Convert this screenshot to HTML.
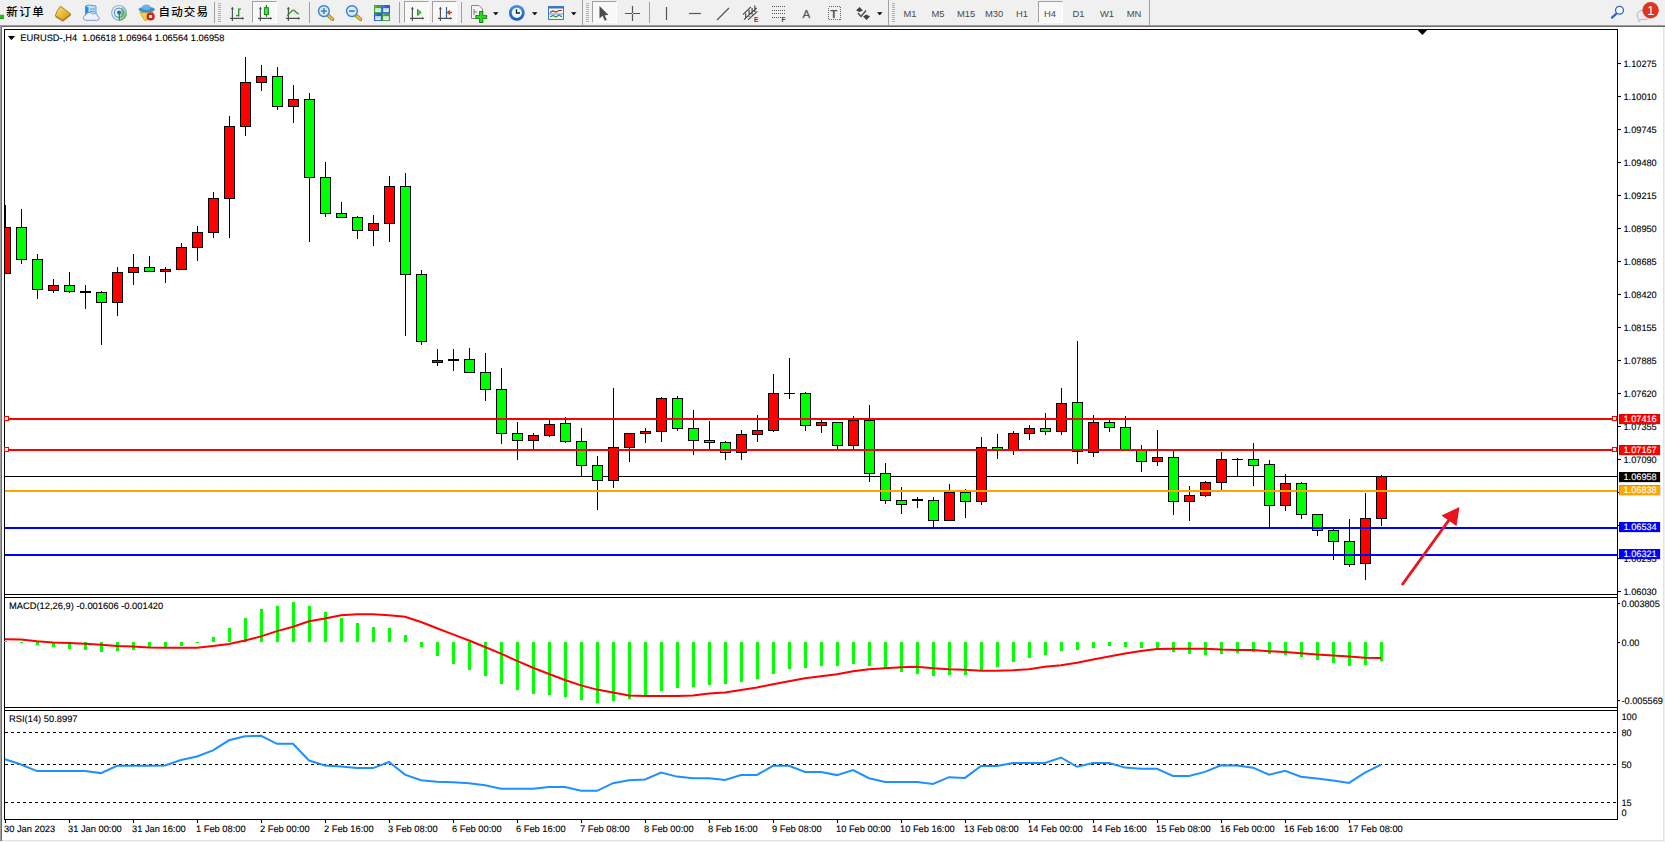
<!DOCTYPE html>
<html lang="zh"><head><meta charset="utf-8"><title>EURUSD-,H4</title>
<style>
html,body{margin:0;padding:0;}
body{width:1665px;height:842px;overflow:hidden;background:#f0f0f0;position:relative;font-family:"Liberation Sans", "Noto Sans CJK SC", sans-serif;}
.tb{position:absolute;left:0;top:0;width:1665px;height:25px;}
.tb .t{position:absolute;white-space:nowrap;}
.cj{font-size:11.5px;font-weight:500;color:#000;top:5.2px;line-height:14px;}
.tf{font-size:9.4px;color:#4a4a4a;top:8.0px;line-height:11px;width:28px;text-align:center;}
.sep{position:absolute;top:2px;width:1px;height:21px;background:#a0a0a0;}
.grip{position:absolute;top:3px;width:3px;height:19px;background:repeating-linear-gradient(#b0b0b0 0 1px,transparent 1px 2px);}
.pr{position:absolute;top:1px;height:22px;box-sizing:border-box;border:1px solid;border-color:#a0a0a0 #fff #fff #a0a0a0;background:#f8f8f8;}
</style></head><body>
<svg id="chart" width="1665" height="842" viewBox="0 0 1665 842" style="position:absolute;left:0;top:0" shape-rendering="crispEdges">
<rect x="0" y="27" width="1664" height="814" fill="#fff"/>
<rect x="0" y="25" width="1665" height="1" fill="#a0a0a0"/><rect x="0" y="26" width="1665" height="1" fill="#696969"/>
<rect x="0" y="26" width="1" height="815" fill="#a0a0a0"/><rect x="1" y="27" width="1" height="814" fill="#696969"/>
<rect x="1663" y="27" width="1" height="814" fill="#e3e3e3"/><rect x="2" y="840" width="1662" height="1" fill="#e3e3e3"/>
<defs><clipPath id="cm"><rect x="5" y="30" width="1612" height="564"/></clipPath></defs>
<rect x="4" y="29" width="1" height="791" fill="#000"/>
<rect x="1617" y="29" width="1" height="791" fill="#000"/>
<rect x="4" y="29" width="1614" height="1" fill="#000"/>
<rect x="4" y="594" width="1614" height="1" fill="#000"/>
<rect x="4" y="597" width="1614" height="1" fill="#000"/>
<rect x="4" y="707" width="1614" height="1" fill="#000"/>
<rect x="4" y="710" width="1614" height="1" fill="#000"/>
<rect x="4" y="819" width="1614" height="1" fill="#000"/>
<rect x="5" y="476" width="1612" height="1" fill="#000"/>
<g clip-path="url(#cm)">
<rect x="5" y="205" width="1" height="69" fill="#000"/>
<rect x="0" y="227" width="11" height="47" fill="#000"/>
<rect x="1" y="228" width="9" height="45" fill="#ff0000"/>
<rect x="21" y="209" width="1" height="55" fill="#000"/>
<rect x="16" y="227" width="11" height="33" fill="#000"/>
<rect x="17" y="228" width="9" height="31" fill="#00ff00"/>
<rect x="37" y="254" width="1" height="45" fill="#000"/>
<rect x="32" y="259" width="11" height="31" fill="#000"/>
<rect x="33" y="260" width="9" height="29" fill="#00ff00"/>
<rect x="53" y="279" width="1" height="14" fill="#000"/>
<rect x="48" y="285" width="11" height="6" fill="#000"/>
<rect x="49" y="286" width="9" height="4" fill="#ff0000"/>
<rect x="69" y="272" width="1" height="21" fill="#000"/>
<rect x="64" y="285" width="11" height="7" fill="#000"/>
<rect x="65" y="286" width="9" height="5" fill="#00ff00"/>
<rect x="85" y="285" width="1" height="24" fill="#000"/>
<rect x="80" y="291" width="11" height="2" fill="#000"/>
<rect x="101" y="291" width="1" height="54" fill="#000"/>
<rect x="96" y="292" width="11" height="11" fill="#000"/>
<rect x="97" y="293" width="9" height="9" fill="#00ff00"/>
<rect x="117" y="267" width="1" height="49" fill="#000"/>
<rect x="112" y="272" width="11" height="31" fill="#000"/>
<rect x="113" y="273" width="9" height="29" fill="#ff0000"/>
<rect x="133" y="254" width="1" height="31" fill="#000"/>
<rect x="128" y="267" width="11" height="6" fill="#000"/>
<rect x="129" y="268" width="9" height="4" fill="#ff0000"/>
<rect x="149" y="256" width="1" height="16" fill="#000"/>
<rect x="144" y="267" width="11" height="5" fill="#000"/>
<rect x="145" y="268" width="9" height="3" fill="#00ff00"/>
<rect x="165" y="267" width="1" height="16" fill="#000"/>
<rect x="160" y="269" width="11" height="3" fill="#000"/>
<rect x="161" y="270" width="9" height="1" fill="#ff0000"/>
<rect x="181" y="243" width="1" height="27" fill="#000"/>
<rect x="176" y="247" width="11" height="23" fill="#000"/>
<rect x="177" y="248" width="9" height="21" fill="#ff0000"/>
<rect x="197" y="226" width="1" height="35" fill="#000"/>
<rect x="192" y="232" width="11" height="16" fill="#000"/>
<rect x="193" y="233" width="9" height="14" fill="#ff0000"/>
<rect x="213" y="192" width="1" height="46" fill="#000"/>
<rect x="208" y="198" width="11" height="35" fill="#000"/>
<rect x="209" y="199" width="9" height="33" fill="#ff0000"/>
<rect x="229" y="116" width="1" height="122" fill="#000"/>
<rect x="224" y="126" width="11" height="73" fill="#000"/>
<rect x="225" y="127" width="9" height="71" fill="#ff0000"/>
<rect x="245" y="57" width="1" height="79" fill="#000"/>
<rect x="240" y="82" width="11" height="45" fill="#000"/>
<rect x="241" y="83" width="9" height="43" fill="#ff0000"/>
<rect x="261" y="65" width="1" height="26" fill="#000"/>
<rect x="256" y="76" width="11" height="7" fill="#000"/>
<rect x="257" y="77" width="9" height="5" fill="#ff0000"/>
<rect x="277" y="67" width="1" height="43" fill="#000"/>
<rect x="272" y="76" width="11" height="31" fill="#000"/>
<rect x="273" y="77" width="9" height="29" fill="#00ff00"/>
<rect x="293" y="85" width="1" height="38" fill="#000"/>
<rect x="288" y="99" width="11" height="8" fill="#000"/>
<rect x="289" y="100" width="9" height="6" fill="#ff0000"/>
<rect x="309" y="93" width="1" height="149" fill="#000"/>
<rect x="304" y="99" width="11" height="79" fill="#000"/>
<rect x="305" y="100" width="9" height="77" fill="#00ff00"/>
<rect x="325" y="162" width="1" height="55" fill="#000"/>
<rect x="320" y="177" width="11" height="37" fill="#000"/>
<rect x="321" y="178" width="9" height="35" fill="#00ff00"/>
<rect x="341" y="202" width="1" height="16" fill="#000"/>
<rect x="336" y="213" width="11" height="5" fill="#000"/>
<rect x="337" y="214" width="9" height="3" fill="#00ff00"/>
<rect x="357" y="216" width="1" height="23" fill="#000"/>
<rect x="352" y="217" width="11" height="14" fill="#000"/>
<rect x="353" y="218" width="9" height="12" fill="#00ff00"/>
<rect x="373" y="215" width="1" height="31" fill="#000"/>
<rect x="368" y="223" width="11" height="8" fill="#000"/>
<rect x="369" y="224" width="9" height="6" fill="#ff0000"/>
<rect x="389" y="176" width="1" height="66" fill="#000"/>
<rect x="384" y="186" width="11" height="38" fill="#000"/>
<rect x="385" y="187" width="9" height="36" fill="#ff0000"/>
<rect x="405" y="173" width="1" height="163" fill="#000"/>
<rect x="400" y="186" width="11" height="89" fill="#000"/>
<rect x="401" y="187" width="9" height="87" fill="#00ff00"/>
<rect x="421" y="270" width="1" height="75" fill="#000"/>
<rect x="416" y="274" width="11" height="68" fill="#000"/>
<rect x="417" y="275" width="9" height="66" fill="#00ff00"/>
<rect x="437" y="349" width="1" height="17" fill="#000"/>
<rect x="432" y="360" width="11" height="3" fill="#000"/>
<rect x="433" y="361" width="9" height="1" fill="#ff0000"/>
<rect x="453" y="349" width="1" height="22" fill="#000"/>
<rect x="448" y="359" width="11" height="2" fill="#000"/>
<rect x="469" y="348" width="1" height="25" fill="#000"/>
<rect x="464" y="359" width="11" height="14" fill="#000"/>
<rect x="465" y="360" width="9" height="12" fill="#00ff00"/>
<rect x="485" y="353" width="1" height="48" fill="#000"/>
<rect x="480" y="372" width="11" height="18" fill="#000"/>
<rect x="481" y="373" width="9" height="16" fill="#00ff00"/>
<rect x="501" y="368" width="1" height="76" fill="#000"/>
<rect x="496" y="389" width="11" height="45" fill="#000"/>
<rect x="497" y="390" width="9" height="43" fill="#00ff00"/>
<rect x="517" y="422" width="1" height="38" fill="#000"/>
<rect x="512" y="433" width="11" height="8" fill="#000"/>
<rect x="513" y="434" width="9" height="6" fill="#00ff00"/>
<rect x="533" y="433" width="1" height="16" fill="#000"/>
<rect x="528" y="435" width="11" height="6" fill="#000"/>
<rect x="529" y="436" width="9" height="4" fill="#ff0000"/>
<rect x="549" y="420" width="1" height="17" fill="#000"/>
<rect x="544" y="424" width="11" height="12" fill="#000"/>
<rect x="545" y="425" width="9" height="10" fill="#ff0000"/>
<rect x="565" y="417" width="1" height="26" fill="#000"/>
<rect x="560" y="423" width="11" height="19" fill="#000"/>
<rect x="561" y="424" width="9" height="17" fill="#00ff00"/>
<rect x="581" y="428" width="1" height="48" fill="#000"/>
<rect x="576" y="441" width="11" height="25" fill="#000"/>
<rect x="577" y="442" width="9" height="23" fill="#00ff00"/>
<rect x="597" y="456" width="1" height="54" fill="#000"/>
<rect x="592" y="465" width="11" height="16" fill="#000"/>
<rect x="593" y="466" width="9" height="14" fill="#00ff00"/>
<rect x="613" y="388" width="1" height="100" fill="#000"/>
<rect x="608" y="447" width="11" height="34" fill="#000"/>
<rect x="609" y="448" width="9" height="32" fill="#ff0000"/>
<rect x="629" y="433" width="1" height="29" fill="#000"/>
<rect x="624" y="433" width="11" height="15" fill="#000"/>
<rect x="625" y="434" width="9" height="13" fill="#ff0000"/>
<rect x="645" y="428" width="1" height="15" fill="#000"/>
<rect x="640" y="431" width="11" height="3" fill="#000"/>
<rect x="641" y="432" width="9" height="1" fill="#ff0000"/>
<rect x="661" y="397" width="1" height="45" fill="#000"/>
<rect x="656" y="398" width="11" height="34" fill="#000"/>
<rect x="657" y="399" width="9" height="32" fill="#ff0000"/>
<rect x="677" y="396" width="1" height="35" fill="#000"/>
<rect x="672" y="398" width="11" height="31" fill="#000"/>
<rect x="673" y="399" width="9" height="29" fill="#00ff00"/>
<rect x="693" y="410" width="1" height="45" fill="#000"/>
<rect x="688" y="428" width="11" height="13" fill="#000"/>
<rect x="689" y="429" width="9" height="11" fill="#00ff00"/>
<rect x="709" y="421" width="1" height="28" fill="#000"/>
<rect x="704" y="440" width="11" height="3" fill="#000"/>
<rect x="705" y="441" width="9" height="1" fill="#00ff00"/>
<rect x="725" y="441" width="1" height="19" fill="#000"/>
<rect x="720" y="442" width="11" height="11" fill="#000"/>
<rect x="721" y="443" width="9" height="9" fill="#00ff00"/>
<rect x="741" y="430" width="1" height="30" fill="#000"/>
<rect x="736" y="434" width="11" height="19" fill="#000"/>
<rect x="737" y="435" width="9" height="17" fill="#ff0000"/>
<rect x="757" y="415" width="1" height="27" fill="#000"/>
<rect x="752" y="430" width="11" height="5" fill="#000"/>
<rect x="753" y="431" width="9" height="3" fill="#ff0000"/>
<rect x="773" y="374" width="1" height="58" fill="#000"/>
<rect x="768" y="393" width="11" height="38" fill="#000"/>
<rect x="769" y="394" width="9" height="36" fill="#ff0000"/>
<rect x="789" y="358" width="1" height="41" fill="#000"/>
<rect x="784" y="393" width="11" height="1" fill="#000"/>
<rect x="805" y="392" width="1" height="39" fill="#000"/>
<rect x="800" y="393" width="11" height="33" fill="#000"/>
<rect x="801" y="394" width="9" height="31" fill="#00ff00"/>
<rect x="821" y="420" width="1" height="13" fill="#000"/>
<rect x="816" y="422" width="11" height="4" fill="#000"/>
<rect x="817" y="423" width="9" height="2" fill="#ff0000"/>
<rect x="837" y="422" width="1" height="27" fill="#000"/>
<rect x="832" y="422" width="11" height="24" fill="#000"/>
<rect x="833" y="423" width="9" height="22" fill="#00ff00"/>
<rect x="853" y="416" width="1" height="33" fill="#000"/>
<rect x="848" y="420" width="11" height="26" fill="#000"/>
<rect x="849" y="421" width="9" height="24" fill="#ff0000"/>
<rect x="869" y="405" width="1" height="77" fill="#000"/>
<rect x="864" y="420" width="11" height="54" fill="#000"/>
<rect x="865" y="421" width="9" height="52" fill="#00ff00"/>
<rect x="885" y="463" width="1" height="41" fill="#000"/>
<rect x="880" y="473" width="11" height="28" fill="#000"/>
<rect x="881" y="474" width="9" height="26" fill="#00ff00"/>
<rect x="901" y="487" width="1" height="27" fill="#000"/>
<rect x="896" y="500" width="11" height="5" fill="#000"/>
<rect x="897" y="501" width="9" height="3" fill="#00ff00"/>
<rect x="917" y="497" width="1" height="11" fill="#000"/>
<rect x="912" y="499" width="11" height="2" fill="#000"/>
<rect x="933" y="497" width="1" height="30" fill="#000"/>
<rect x="928" y="500" width="11" height="21" fill="#000"/>
<rect x="929" y="501" width="9" height="19" fill="#00ff00"/>
<rect x="949" y="484" width="1" height="37" fill="#000"/>
<rect x="944" y="492" width="11" height="29" fill="#000"/>
<rect x="945" y="493" width="9" height="27" fill="#ff0000"/>
<rect x="965" y="489" width="1" height="29" fill="#000"/>
<rect x="960" y="492" width="11" height="10" fill="#000"/>
<rect x="961" y="493" width="9" height="8" fill="#00ff00"/>
<rect x="981" y="437" width="1" height="68" fill="#000"/>
<rect x="976" y="447" width="11" height="55" fill="#000"/>
<rect x="977" y="448" width="9" height="53" fill="#ff0000"/>
<rect x="997" y="434" width="1" height="25" fill="#000"/>
<rect x="992" y="447" width="11" height="3" fill="#000"/>
<rect x="993" y="448" width="9" height="1" fill="#00ff00"/>
<rect x="1013" y="431" width="1" height="24" fill="#000"/>
<rect x="1008" y="433" width="11" height="18" fill="#000"/>
<rect x="1009" y="434" width="9" height="16" fill="#ff0000"/>
<rect x="1029" y="425" width="1" height="15" fill="#000"/>
<rect x="1024" y="428" width="11" height="6" fill="#000"/>
<rect x="1025" y="429" width="9" height="4" fill="#ff0000"/>
<rect x="1045" y="413" width="1" height="22" fill="#000"/>
<rect x="1040" y="428" width="11" height="4" fill="#000"/>
<rect x="1041" y="429" width="9" height="2" fill="#00ff00"/>
<rect x="1061" y="388" width="1" height="47" fill="#000"/>
<rect x="1056" y="403" width="11" height="29" fill="#000"/>
<rect x="1057" y="404" width="9" height="27" fill="#ff0000"/>
<rect x="1077" y="341" width="1" height="123" fill="#000"/>
<rect x="1072" y="402" width="11" height="50" fill="#000"/>
<rect x="1073" y="403" width="9" height="48" fill="#00ff00"/>
<rect x="1093" y="415" width="1" height="42" fill="#000"/>
<rect x="1088" y="422" width="11" height="31" fill="#000"/>
<rect x="1089" y="423" width="9" height="29" fill="#ff0000"/>
<rect x="1109" y="420" width="1" height="12" fill="#000"/>
<rect x="1104" y="422" width="11" height="6" fill="#000"/>
<rect x="1105" y="423" width="9" height="4" fill="#00ff00"/>
<rect x="1125" y="416" width="1" height="35" fill="#000"/>
<rect x="1120" y="427" width="11" height="24" fill="#000"/>
<rect x="1121" y="428" width="9" height="22" fill="#00ff00"/>
<rect x="1141" y="445" width="1" height="27" fill="#000"/>
<rect x="1136" y="450" width="11" height="12" fill="#000"/>
<rect x="1137" y="451" width="9" height="10" fill="#00ff00"/>
<rect x="1157" y="430" width="1" height="36" fill="#000"/>
<rect x="1152" y="457" width="11" height="5" fill="#000"/>
<rect x="1153" y="458" width="9" height="3" fill="#ff0000"/>
<rect x="1173" y="451" width="1" height="64" fill="#000"/>
<rect x="1168" y="457" width="11" height="45" fill="#000"/>
<rect x="1169" y="458" width="9" height="43" fill="#00ff00"/>
<rect x="1189" y="486" width="1" height="35" fill="#000"/>
<rect x="1184" y="495" width="11" height="7" fill="#000"/>
<rect x="1185" y="496" width="9" height="5" fill="#ff0000"/>
<rect x="1205" y="481" width="1" height="16" fill="#000"/>
<rect x="1200" y="482" width="11" height="14" fill="#000"/>
<rect x="1201" y="483" width="9" height="12" fill="#ff0000"/>
<rect x="1221" y="452" width="1" height="38" fill="#000"/>
<rect x="1216" y="459" width="11" height="24" fill="#000"/>
<rect x="1217" y="460" width="9" height="22" fill="#ff0000"/>
<rect x="1237" y="458" width="1" height="18" fill="#000"/>
<rect x="1232" y="459" width="11" height="1" fill="#000"/>
<rect x="1253" y="443" width="1" height="43" fill="#000"/>
<rect x="1248" y="459" width="11" height="7" fill="#000"/>
<rect x="1249" y="460" width="9" height="5" fill="#00ff00"/>
<rect x="1269" y="460" width="1" height="67" fill="#000"/>
<rect x="1264" y="464" width="11" height="42" fill="#000"/>
<rect x="1265" y="465" width="9" height="40" fill="#00ff00"/>
<rect x="1285" y="474" width="1" height="37" fill="#000"/>
<rect x="1280" y="483" width="11" height="23" fill="#000"/>
<rect x="1281" y="484" width="9" height="21" fill="#ff0000"/>
<rect x="1301" y="482" width="1" height="37" fill="#000"/>
<rect x="1296" y="483" width="11" height="32" fill="#000"/>
<rect x="1297" y="484" width="9" height="30" fill="#00ff00"/>
<rect x="1317" y="514" width="1" height="22" fill="#000"/>
<rect x="1312" y="514" width="11" height="17" fill="#000"/>
<rect x="1313" y="515" width="9" height="15" fill="#00ff00"/>
<rect x="1333" y="529" width="1" height="31" fill="#000"/>
<rect x="1328" y="530" width="11" height="12" fill="#000"/>
<rect x="1329" y="531" width="9" height="10" fill="#00ff00"/>
<rect x="1349" y="519" width="1" height="48" fill="#000"/>
<rect x="1344" y="541" width="11" height="24" fill="#000"/>
<rect x="1345" y="542" width="9" height="22" fill="#00ff00"/>
<rect x="1365" y="493" width="1" height="87" fill="#000"/>
<rect x="1360" y="518" width="11" height="46" fill="#000"/>
<rect x="1361" y="519" width="9" height="44" fill="#ff0000"/>
<rect x="1381" y="475" width="1" height="51" fill="#000"/>
<rect x="1376" y="476" width="11" height="43" fill="#000"/>
<rect x="1377" y="477" width="9" height="41" fill="#ff0000"/>
</g>
<rect x="5" y="418" width="1612" height="2" fill="#ff0000"/>
<rect x="5" y="449" width="1612" height="2" fill="#ff0000"/>
<rect x="5" y="490" width="1612" height="2" fill="#ffa500"/>
<rect x="5" y="527" width="1612" height="2" fill="#0000ff"/>
<rect x="5" y="554" width="1612" height="2" fill="#0000ff"/>
<rect x="4.5" y="416.5" width="4" height="4" fill="#fff" stroke="#ff0000" stroke-width="1"/>
<rect x="1612.5" y="416.5" width="4" height="4" fill="#fff" stroke="#ff0000" stroke-width="1"/>
<rect x="4.5" y="447.5" width="4" height="4" fill="#fff" stroke="#ff0000" stroke-width="1"/>
<rect x="1612.5" y="447.5" width="4" height="4" fill="#fff" stroke="#ff0000" stroke-width="1"/>
<g shape-rendering="auto"><line x1="1402" y1="585" x2="1449" y2="520" stroke="#e8141e" stroke-width="2.9"/><polygon points="1459.5,507 1441.5,515.5 1456.5,526" fill="#e8141e"/></g>
<polygon points="1417.6,30 1427.2,30 1422.4,34.9" fill="#000" shape-rendering="auto"/>
<g font-family='"Liberation Sans", "Noto Sans CJK SC", sans-serif' font-size="9.2" fill="#000" stroke="#000" stroke-width="0.12" shape-rendering="auto" text-rendering="geometricPrecision">
<rect x="1618" y="63" width="3" height="1" fill="#000"/>
<text x="1623.5" y="66.6">1.10275</text>
<rect x="1618" y="96" width="3" height="1" fill="#000"/>
<text x="1623.5" y="99.6">1.10010</text>
<rect x="1618" y="129" width="3" height="1" fill="#000"/>
<text x="1623.5" y="132.6">1.09745</text>
<rect x="1618" y="162" width="3" height="1" fill="#000"/>
<text x="1623.5" y="165.6">1.09480</text>
<rect x="1618" y="195" width="3" height="1" fill="#000"/>
<text x="1623.5" y="198.6">1.09215</text>
<rect x="1618" y="228" width="3" height="1" fill="#000"/>
<text x="1623.5" y="231.6">1.08950</text>
<rect x="1618" y="261" width="3" height="1" fill="#000"/>
<text x="1623.5" y="264.6">1.08685</text>
<rect x="1618" y="294" width="3" height="1" fill="#000"/>
<text x="1623.5" y="297.6">1.08420</text>
<rect x="1618" y="327" width="3" height="1" fill="#000"/>
<text x="1623.5" y="330.6">1.08155</text>
<rect x="1618" y="360" width="3" height="1" fill="#000"/>
<text x="1623.5" y="363.6">1.07885</text>
<rect x="1618" y="393" width="3" height="1" fill="#000"/>
<text x="1623.5" y="396.6">1.07620</text>
<rect x="1618" y="426" width="3" height="1" fill="#000"/>
<text x="1623.5" y="429.6">1.07355</text>
<rect x="1618" y="459" width="3" height="1" fill="#000"/>
<text x="1623.5" y="462.6">1.07090</text>
<rect x="1618" y="492" width="3" height="1" fill="#000"/>
<rect x="1618" y="525" width="3" height="1" fill="#000"/>
<rect x="1618" y="558" width="3" height="1" fill="#000"/>
<text x="1623.5" y="561.6">1.06295</text>
<rect x="1618" y="591" width="3" height="1" fill="#000"/>
<text x="1623.5" y="594.6">1.06030</text>
<rect x="1619" y="414" width="41" height="10" fill="#ff0000" shape-rendering="crispEdges"/>
<text x="1623.5" y="422.3" fill="#fff" stroke="#fff">1.07416</text>
<rect x="1619" y="445" width="41" height="10" fill="#ff0000" shape-rendering="crispEdges"/>
<text x="1623.5" y="453.3" fill="#fff" stroke="#fff">1.07167</text>
<rect x="1619" y="472" width="41" height="10" fill="#000" shape-rendering="crispEdges"/>
<text x="1623.5" y="480.3" fill="#fff" stroke="#fff">1.06958</text>
<rect x="1619" y="485" width="41" height="10" fill="#ffa500" shape-rendering="crispEdges"/>
<text x="1623.5" y="493.3" fill="#fff" stroke="#fff">1.06838</text>
<rect x="1619" y="522" width="41" height="10" fill="#0000ff" shape-rendering="crispEdges"/>
<text x="1623.5" y="530.3" fill="#fff" stroke="#fff">1.06534</text>
<rect x="1619" y="549" width="41" height="10" fill="#0000ff" shape-rendering="crispEdges"/>
<text x="1623.5" y="557.3" fill="#fff" stroke="#fff">1.06321</text>
<rect x="1618" y="603" width="2" height="1" fill="#000"/>
<text x="1621.5" y="606.8">0.003805</text>
<rect x="1618" y="642" width="2" height="1" fill="#000"/>
<text x="1621.5" y="645.8">0.00</text>
<rect x="1618" y="700" width="2" height="1" fill="#000"/>
<text x="1621.5" y="704.0">-0.005569</text>
<text x="1621.5" y="719.6">100</text>
<text x="1621.5" y="736.0">80</text>
<text x="1621.5" y="767.9">50</text>
<text x="1621.5" y="806.0">15</text>
<text x="1621.5" y="815.8">0</text>
<polygon points="8,36 15,36 11.5,40" fill="#000"/>
<text x="20.3" y="41" font-size="9.3" xml:space="preserve">EURUSD-,H4  1.06618 1.06964 1.06564 1.06958</text>
<text x="9" y="609" font-size="9.35" xml:space="preserve">MACD(12,26,9) -0.001606 -0.001420</text>
<text x="9" y="722" font-size="9.35" xml:space="preserve">RSI(14) 50.8997</text>
<rect x="5" y="820" width="1" height="3" fill="#000"/>
<text x="4" y="832" font-size="9.3">30 Jan 2023</text>
<rect x="69" y="820" width="1" height="3" fill="#000"/>
<text x="68" y="832" font-size="9.3">31 Jan 00:00</text>
<rect x="133" y="820" width="1" height="3" fill="#000"/>
<text x="132" y="832" font-size="9.3">31 Jan 16:00</text>
<rect x="197" y="820" width="1" height="3" fill="#000"/>
<text x="196" y="832" font-size="9.3">1 Feb 08:00</text>
<rect x="261" y="820" width="1" height="3" fill="#000"/>
<text x="260" y="832" font-size="9.3">2 Feb 00:00</text>
<rect x="325" y="820" width="1" height="3" fill="#000"/>
<text x="324" y="832" font-size="9.3">2 Feb 16:00</text>
<rect x="389" y="820" width="1" height="3" fill="#000"/>
<text x="388" y="832" font-size="9.3">3 Feb 08:00</text>
<rect x="453" y="820" width="1" height="3" fill="#000"/>
<text x="452" y="832" font-size="9.3">6 Feb 00:00</text>
<rect x="517" y="820" width="1" height="3" fill="#000"/>
<text x="516" y="832" font-size="9.3">6 Feb 16:00</text>
<rect x="581" y="820" width="1" height="3" fill="#000"/>
<text x="580" y="832" font-size="9.3">7 Feb 08:00</text>
<rect x="645" y="820" width="1" height="3" fill="#000"/>
<text x="644" y="832" font-size="9.3">8 Feb 00:00</text>
<rect x="709" y="820" width="1" height="3" fill="#000"/>
<text x="708" y="832" font-size="9.3">8 Feb 16:00</text>
<rect x="773" y="820" width="1" height="3" fill="#000"/>
<text x="772" y="832" font-size="9.3">9 Feb 08:00</text>
<rect x="837" y="820" width="1" height="3" fill="#000"/>
<text x="836" y="832" font-size="9.3">10 Feb 00:00</text>
<rect x="901" y="820" width="1" height="3" fill="#000"/>
<text x="900" y="832" font-size="9.3">10 Feb 16:00</text>
<rect x="965" y="820" width="1" height="3" fill="#000"/>
<text x="964" y="832" font-size="9.3">13 Feb 08:00</text>
<rect x="1029" y="820" width="1" height="3" fill="#000"/>
<text x="1028" y="832" font-size="9.3">14 Feb 00:00</text>
<rect x="1093" y="820" width="1" height="3" fill="#000"/>
<text x="1092" y="832" font-size="9.3">14 Feb 16:00</text>
<rect x="1157" y="820" width="1" height="3" fill="#000"/>
<text x="1156" y="832" font-size="9.3">15 Feb 08:00</text>
<rect x="1221" y="820" width="1" height="3" fill="#000"/>
<text x="1220" y="832" font-size="9.3">16 Feb 00:00</text>
<rect x="1285" y="820" width="1" height="3" fill="#000"/>
<text x="1284" y="832" font-size="9.3">16 Feb 16:00</text>
<rect x="1349" y="820" width="1" height="3" fill="#000"/>
<text x="1348" y="832" font-size="9.3">17 Feb 08:00</text>
</g>
<rect x="4" y="641" width="3" height="1" fill="#00ff00"/>
<rect x="20" y="642" width="3" height="1" fill="#00ff00"/>
<rect x="36" y="642" width="3" height="3" fill="#00ff00"/>
<rect x="52" y="642" width="3" height="5" fill="#00ff00"/>
<rect x="68" y="642" width="3" height="7" fill="#00ff00"/>
<rect x="84" y="642" width="3" height="8" fill="#00ff00"/>
<rect x="100" y="642" width="3" height="10" fill="#00ff00"/>
<rect x="116" y="642" width="3" height="9" fill="#00ff00"/>
<rect x="132" y="642" width="3" height="8" fill="#00ff00"/>
<rect x="148" y="642" width="3" height="6" fill="#00ff00"/>
<rect x="164" y="642" width="3" height="5" fill="#00ff00"/>
<rect x="180" y="642" width="3" height="4" fill="#00ff00"/>
<rect x="196" y="642" width="3" height="1" fill="#00ff00"/>
<rect x="212" y="637" width="3" height="5" fill="#00ff00"/>
<rect x="228" y="628" width="3" height="14" fill="#00ff00"/>
<rect x="244" y="618" width="3" height="24" fill="#00ff00"/>
<rect x="260" y="609" width="3" height="33" fill="#00ff00"/>
<rect x="276" y="606" width="3" height="36" fill="#00ff00"/>
<rect x="292" y="602" width="3" height="40" fill="#00ff00"/>
<rect x="308" y="606" width="3" height="36" fill="#00ff00"/>
<rect x="324" y="612" width="3" height="30" fill="#00ff00"/>
<rect x="340" y="618" width="3" height="24" fill="#00ff00"/>
<rect x="356" y="623" width="3" height="19" fill="#00ff00"/>
<rect x="372" y="627" width="3" height="15" fill="#00ff00"/>
<rect x="388" y="628" width="3" height="14" fill="#00ff00"/>
<rect x="404" y="635" width="3" height="7" fill="#00ff00"/>
<rect x="420" y="642" width="3" height="5" fill="#00ff00"/>
<rect x="436" y="642" width="3" height="14" fill="#00ff00"/>
<rect x="452" y="642" width="3" height="22" fill="#00ff00"/>
<rect x="468" y="642" width="3" height="28" fill="#00ff00"/>
<rect x="484" y="642" width="3" height="34" fill="#00ff00"/>
<rect x="500" y="642" width="3" height="42" fill="#00ff00"/>
<rect x="516" y="642" width="3" height="48" fill="#00ff00"/>
<rect x="532" y="642" width="3" height="52" fill="#00ff00"/>
<rect x="548" y="642" width="3" height="53" fill="#00ff00"/>
<rect x="564" y="642" width="3" height="55" fill="#00ff00"/>
<rect x="580" y="642" width="3" height="58" fill="#00ff00"/>
<rect x="596" y="642" width="3" height="61" fill="#00ff00"/>
<rect x="612" y="642" width="3" height="59" fill="#00ff00"/>
<rect x="628" y="642" width="3" height="57" fill="#00ff00"/>
<rect x="644" y="642" width="3" height="53" fill="#00ff00"/>
<rect x="660" y="642" width="3" height="49" fill="#00ff00"/>
<rect x="676" y="642" width="3" height="46" fill="#00ff00"/>
<rect x="692" y="642" width="3" height="45" fill="#00ff00"/>
<rect x="708" y="642" width="3" height="43" fill="#00ff00"/>
<rect x="724" y="642" width="3" height="42" fill="#00ff00"/>
<rect x="740" y="642" width="3" height="40" fill="#00ff00"/>
<rect x="756" y="642" width="3" height="37" fill="#00ff00"/>
<rect x="772" y="642" width="3" height="32" fill="#00ff00"/>
<rect x="788" y="642" width="3" height="27" fill="#00ff00"/>
<rect x="804" y="642" width="3" height="26" fill="#00ff00"/>
<rect x="820" y="642" width="3" height="24" fill="#00ff00"/>
<rect x="836" y="642" width="3" height="24" fill="#00ff00"/>
<rect x="852" y="642" width="3" height="22" fill="#00ff00"/>
<rect x="868" y="642" width="3" height="24" fill="#00ff00"/>
<rect x="884" y="642" width="3" height="27" fill="#00ff00"/>
<rect x="900" y="642" width="3" height="30" fill="#00ff00"/>
<rect x="916" y="642" width="3" height="32" fill="#00ff00"/>
<rect x="932" y="642" width="3" height="34" fill="#00ff00"/>
<rect x="948" y="642" width="3" height="33" fill="#00ff00"/>
<rect x="964" y="642" width="3" height="33" fill="#00ff00"/>
<rect x="980" y="642" width="3" height="29" fill="#00ff00"/>
<rect x="996" y="642" width="3" height="25" fill="#00ff00"/>
<rect x="1012" y="642" width="3" height="20" fill="#00ff00"/>
<rect x="1028" y="642" width="3" height="16" fill="#00ff00"/>
<rect x="1044" y="642" width="3" height="13" fill="#00ff00"/>
<rect x="1060" y="642" width="3" height="9" fill="#00ff00"/>
<rect x="1076" y="642" width="3" height="8" fill="#00ff00"/>
<rect x="1092" y="642" width="3" height="6" fill="#00ff00"/>
<rect x="1108" y="642" width="3" height="4" fill="#00ff00"/>
<rect x="1124" y="642" width="3" height="5" fill="#00ff00"/>
<rect x="1140" y="642" width="3" height="6" fill="#00ff00"/>
<rect x="1156" y="642" width="3" height="7" fill="#00ff00"/>
<rect x="1172" y="642" width="3" height="10" fill="#00ff00"/>
<rect x="1188" y="642" width="3" height="12" fill="#00ff00"/>
<rect x="1204" y="642" width="3" height="13" fill="#00ff00"/>
<rect x="1220" y="642" width="3" height="12" fill="#00ff00"/>
<rect x="1236" y="642" width="3" height="11" fill="#00ff00"/>
<rect x="1252" y="642" width="3" height="10" fill="#00ff00"/>
<rect x="1268" y="642" width="3" height="12" fill="#00ff00"/>
<rect x="1284" y="642" width="3" height="13" fill="#00ff00"/>
<rect x="1300" y="642" width="3" height="15" fill="#00ff00"/>
<rect x="1316" y="642" width="3" height="18" fill="#00ff00"/>
<rect x="1332" y="642" width="3" height="21" fill="#00ff00"/>
<rect x="1348" y="642" width="3" height="24" fill="#00ff00"/>
<rect x="1364" y="642" width="3" height="23" fill="#00ff00"/>
<rect x="1380" y="642" width="3" height="19" fill="#00ff00"/>
<polyline points="5,639.2 21,639.4 37,641.2 53,642.5 69,643.0 85,643.7 101,644.7 117,646.0 133,646.5 149,647.5 165,647.8 181,647.8 197,647.8 213,646.0 229,644.0 245,640.5 261,636.4 277,631.1 293,626.8 309,621.3 325,618.5 341,615.2 357,614.2 373,614.2 389,615.2 405,616.7 421,622.0 437,628.3 453,634.4 469,640.5 485,647.0 501,653.6 517,660.9 533,667.7 549,674.0 565,680.0 581,685.4 597,689.6 613,692.4 629,695.4 645,696.0 661,696.0 677,696.0 693,695.4 709,693.4 725,692.4 741,689.9 757,687.4 773,684.3 789,681.3 805,678.3 821,676.3 837,674.3 853,671.2 869,669.2 885,668.2 901,667.2 917,666.7 933,668.2 949,669.2 965,669.7 981,670.7 997,670.7 1013,670.2 1029,669.2 1045,666.7 1061,665.2 1077,662.7 1093,659.6 1109,656.6 1125,653.6 1141,651.0 1157,649.0 1173,648.8 1189,648.8 1205,648.8 1221,649.6 1237,649.9 1253,650.1 1269,651.3 1285,652.1 1301,653.2 1317,654.6 1333,655.5 1349,656.6 1365,657.7 1381,658.0" fill="none" stroke="#ff0000" stroke-width="2" shape-rendering="auto"/>
<line x1="5" y1="732.5" x2="1617" y2="732.5" stroke="#000" stroke-width="1" stroke-dasharray="3 3"/>
<line x1="5" y1="764.5" x2="1617" y2="764.5" stroke="#000" stroke-width="1" stroke-dasharray="3 3"/>
<line x1="5" y1="802.5" x2="1617" y2="802.5" stroke="#000" stroke-width="1" stroke-dasharray="3 3"/>
<polyline points="5,759.2 21,764.5 37,771.1 53,771.1 69,771.1 85,771.1 101,773.1 117,765.8 133,765.8 149,765.8 165,765.5 181,760.0 197,756.5 213,750.4 229,740.3 245,736.3 261,735.8 277,743.8 293,743.8 309,760.5 325,765.5 341,766.6 357,768.1 373,768.1 389,762.0 405,774.6 421,780.2 437,781.7 453,782.2 469,783.2 485,785.2 501,788.8 517,788.8 533,788.8 549,787.0 565,787.0 581,790.8 597,790.8 613,783.2 629,780.2 645,779.4 661,772.6 677,776.6 693,778.2 709,778.2 725,779.9 741,775.1 757,774.9 773,765.8 789,765.8 805,771.9 821,771.9 837,775.1 853,770.1 869,778.2 885,781.9 901,781.9 917,781.9 933,784.0 949,777.2 965,777.9 981,766.0 997,766.0 1013,763.0 1029,763.0 1045,763.0 1061,757.5 1077,766.8 1093,763.0 1109,763.0 1125,767.6 1141,768.8 1157,768.8 1173,775.9 1189,775.9 1205,771.9 1221,765.3 1237,765.5 1253,767.7 1269,774.7 1285,770.8 1301,776.7 1317,778.4 1333,780.4 1349,782.9 1365,772.7 1381,764.6" fill="none" stroke="#1e90ff" stroke-width="2" shape-rendering="auto"/>
</svg>
<div class="tb">
<div class="t cj" style="left:6.2px;letter-spacing:1.5px">新订单</div>
<div class="t cj" style="left:158.6px;letter-spacing:1.1px">自动交易</div>
<div class="sep" style="left:214px"></div><div class="grip" style="left:218px"></div>
<div class="pr" style="left:252px;width:25px"></div>
<div class="sep" style="left:309px"></div>
<div class="sep" style="left:399px"></div>
<div class="pr" style="left:404px;width:25px"></div>
<div class="pr" style="left:432px;width:25px"></div>
<div class="sep" style="left:461px"></div>
<div class="sep" style="left:582px;top:0;height:25px"></div><div class="grip" style="left:586px"></div>
<div class="pr" style="left:592px;width:25px"></div>
<div class="sep" style="left:649px"></div>
<div class="sep" style="left:888px;top:0;height:25px"></div><div class="grip" style="left:892px"></div>
<div class="pr" style="left:1038px;width:25px"></div>
<div class="t tf" style="left:896px">M1</div>
<div class="t tf" style="left:924px">M5</div>
<div class="t tf" style="left:952px">M15</div>
<div class="t tf" style="left:980px">M30</div>
<div class="t tf" style="left:1008px">H1</div>
<div class="t tf" style="left:1036px">H4</div>
<div class="t tf" style="left:1064.5px">D1</div>
<div class="t tf" style="left:1093px">W1</div>
<div class="t tf" style="left:1120px">MN</div>
<div class="sep" style="left:1149px;top:0;height:25px"></div>
<svg width="1665" height="25" viewBox="0 0 1665 25" style="position:absolute;left:0;top:0">
<!-- new order plus fragment -->
<rect x="0" y="14.8" width="4" height="3.9" fill="#12c412"/><rect x="0" y="18.2" width="4" height=".8" fill="#0a8a0a"/>
<!-- book -->
<defs><linearGradient id="gb" x1="0" y1="0" x2="1" y2="1"><stop offset="0" stop-color="#f7e08a"/><stop offset=".5" stop-color="#e9bb33"/><stop offset="1" stop-color="#c98d18"/></linearGradient>
<radialGradient id="gs" cx=".5" cy=".5" r=".5"><stop offset="0" stop-color="#3fae3f" stop-opacity=".75"/><stop offset="1" stop-color="#3fae3f" stop-opacity=".25"/></radialGradient>
<linearGradient id="gr" x1="0" y1="0" x2="0" y2="1"><stop offset="0" stop-color="#e8563a"/><stop offset="1" stop-color="#d92a12"/></linearGradient></defs>
<g><path d="M60.6 6.2 Q57 10 55.300 15.600 L62.800 20.400 L70.800 14 Z" fill="url(#gb)" stroke="#a9721a" stroke-width=".9" stroke-linejoin="round"/><path d="M55.500 16.500 L62.900 21 L70.700 14.800" fill="none" stroke="#b27a1c" stroke-width="1.300"/></g>
<!-- server cloud -->
<g><path d="M85.500 6 L88.500 5 L96 6 L96 15 L85.500 15 Z" fill="#bfe0fb" stroke="#2b8ae6" stroke-width=".8"/><path d="M85.500 6 L88.500 7.500 L88.500 15 L85.500 15 Z" fill="#1e8ff2"/><path d="M90 9 H95 M90 11.500 H95" stroke="#4f9fe8" stroke-width="1"/><path d="M85.500 20.300 a3 2.800 0 0 1 .3 -5.400 a3.600 3.300 0 0 1 6.600 -.8 a3.200 2.800 0 0 1 5.200 2.300 a2.200 2 0 0 1 -1.200 3.900 Z" fill="#eef2fa" stroke="#6f8fc4" stroke-width=".9"/></g>
<!-- signal -->
<g fill="none"><circle cx="119" cy="12.800" r="7.300" stroke="#8eb4e6" stroke-width="1.200"/><circle cx="119" cy="12.800" r="4.600" stroke="#5b8fdc" stroke-width="1.200"/><path d="M119 12.800 L122.700 6.500 A7.300 7.300 0 0 1 119 20.100 Z" fill="url(#gs)"/><path d="M119.300 12.800 V20.400" stroke="#22aa22" stroke-width="1.400"/><path d="M126.300 12.800 A7.300 7.300 0 0 1 119 20.100" stroke="#55b055" stroke-width="1.300" opacity=".8"/><circle cx="119" cy="12.500" r="1.900" fill="#2a5fc8"/></g>
<!-- hat + stop -->
<g><path d="M139.800 12.500 L153.200 12.500 L146.800 20.300 L144.500 20.300 Z" fill="#f3cf45" stroke="#c79a22" stroke-width=".7"/><ellipse cx="146.700" cy="9.600" rx="8.200" ry="2.900" fill="#3f8fd0"/><ellipse cx="146.300" cy="7.300" rx="4.200" ry="2.700" fill="#6cb2e8"/><circle cx="150.600" cy="16.500" r="4.100" fill="#d8200e"/><rect x="149.100" y="15" width="3" height="3" fill="#fff"/></g>
<!-- bar chart icon -->
<g stroke="#4f4f4f" stroke-width="1.15" fill="none"><path d="M232.4 7.6 V20.9 M230.0 18.4 H243.4"/></g><path d="M230.9 9.2 L232.4 6.8 L233.9 9.2 Z M242.0 17 L244.20000000000002 18.4 L242.0 19.800 Z" fill="#4f4f4f"/>
<path d="M236.1 15.6 H238.7 M238.7 8.4 V16.5 M238.7 9.2 H240.9" stroke="#1f8f1f" stroke-width="1.3" fill="none"/>
<!-- candle icon -->
<g stroke="#4f4f4f" stroke-width="1.15" fill="none"><path d="M260.4 7.6 V20.9 M258.0 18.4 H271.4"/></g><path d="M258.9 9.2 L260.4 6.8 L261.9 9.2 Z M270.0 17 L272.2 18.4 L270.0 19.800 Z" fill="#4f4f4f"/>
<path d="M266.4 5 V16.7" stroke="#0f8a0f" stroke-width="1.2"/><rect x="264.4" y="7.7" width="4" height="6.800" fill="#4be05a" stroke="#0f8a0f" stroke-width="1"/>
<!-- line chart icon -->
<g stroke="#4f4f4f" stroke-width="1.15" fill="none"><path d="M288.4 7.6 V20.9 M286.0 18.4 H299.4"/></g><path d="M286.9 9.2 L288.4 6.8 L289.9 9.2 Z M298.0 17 L300.2 18.4 L298.0 19.800 Z" fill="#4f4f4f"/>
<path d="M287.1 15.800 C289.500 14.500 291 10 293.2 10.1 C295 10.200 296.500 13.300 298.700 14.100" stroke="#2f8f2f" stroke-width="1.2" fill="none"/>
<!-- zoom in -->
<g><path d="M328 15.400 L332.500 19.300" stroke="#9a7a1a" stroke-width="3.400" stroke-linecap="round"/><path d="M328 15.400 L332.500 19.300" stroke="#e8c83a" stroke-width="1.800" stroke-linecap="round"/><circle cx="323.900" cy="11.100" r="5.400" fill="#d6ebfa" stroke="#3a7fd0" stroke-width="1.400"/><path d="M321 11.100 H326.800 M323.900 8.200 V14" stroke="#4a8cc0" stroke-width="1.800"/></g>
<!-- zoom out -->
<g><path d="M356 15.400 L360.500 19.300" stroke="#9a7a1a" stroke-width="3.400" stroke-linecap="round"/><path d="M356 15.400 L360.500 19.300" stroke="#e8c83a" stroke-width="1.800" stroke-linecap="round"/><circle cx="351.900" cy="11.100" r="5.400" fill="#d6ebfa" stroke="#3a7fd0" stroke-width="1.400"/><path d="M349 11.100 H354.800" stroke="#4a8cc0" stroke-width="1.800"/></g>
<!-- grid -->
<g><rect x="374" y="5" width="8" height="8" fill="#3aa03a"/><rect x="382" y="5" width="8" height="8" fill="#2a5fd0"/><rect x="374" y="13" width="8" height="8" fill="#2a5fd0"/><rect x="382" y="13" width="8" height="8" fill="#3aa03a"/>
<rect x="375.2" y="8.2" width="5.600" height="3.900" fill="#eef8ee"/><rect x="375.4" y="6.199999999999999" width="1" height="1" fill="#fff" opacity=".8"/><rect x="376.4" y="9.399999999999999" width="3.200" height=".9" fill="#9fd49f"/><rect x="383.2" y="8.2" width="5.600" height="3.900" fill="#eaf0fc"/><rect x="383.4" y="6.199999999999999" width="1" height="1" fill="#fff" opacity=".8"/><rect x="384.4" y="9.399999999999999" width="3.200" height=".9" fill="#9fb6ee"/><rect x="375.2" y="16.2" width="5.600" height="3.900" fill="#eaf0fc"/><rect x="375.4" y="14.2" width="1" height="1" fill="#fff" opacity=".8"/><rect x="376.4" y="17.4" width="3.200" height=".9" fill="#9fb6ee"/><rect x="383.2" y="16.2" width="5.600" height="3.900" fill="#eef8ee"/><rect x="383.4" y="14.2" width="1" height="1" fill="#fff" opacity=".8"/><rect x="384.4" y="17.4" width="3.200" height=".9" fill="#9fd49f"/></g>
<!-- autoscroll -->
<g stroke="#4f4f4f" stroke-width="1.15" fill="none"><path d="M412.4 7.6 V20.9 M410.0 18.4 H423.4"/></g><path d="M410.9 9.2 L412.4 6.8 L413.9 9.2 Z M422.0 17 L424.2 18.4 L422.0 19.800 Z" fill="#4f4f4f"/>
<path d="M417.600 9.400 L421.200 12.500 L417.600 15.600 Z" fill="#4fcf4f" stroke="#1f9a1f" stroke-width="1"/>
<!-- shift -->
<g stroke="#4f4f4f" stroke-width="1.15" fill="none"><path d="M440.4 7.6 V20.9 M438.0 18.4 H451.4"/></g><path d="M438.9 9.2 L440.4 6.8 L441.9 9.2 Z M450.0 17 L452.2 18.4 L450.0 19.800 Z" fill="#4f4f4f"/>
<path d="M446.5 7 V18" stroke="#2a6ab0" stroke-width="1.2"/><path d="M452 12.5 H448 M450 10.5 L447.5 12.5 L450 14.5" stroke="#d04010" stroke-width="1.3" fill="none"/>
<!-- doc plus -->
<g><path d="M471.5 5.5 H479 L482.5 9 V18.500 H471.500 Z" fill="#f4f4f4" stroke="#888" stroke-width="1"/><path d="M474 9 V15 M474 12 H477" stroke="#777" stroke-width="1" fill="none"/><path d="M481.200 11.100 V22.900 M475.300 17 H487.100" stroke="#0f8a0f" stroke-width="4.200"/><path d="M481.200 12 V22 M476.200 17 H486.200" stroke="#2fd42f" stroke-width="2.400"/></g>
<path d="M493 12.2 H498.5 L495.75 15.2 Z" fill="#000"/>
<!-- clock -->
<g><defs><linearGradient id="gc" x1="0" y1="0" x2="0" y2="1"><stop offset="0" stop-color="#3f95ea"/><stop offset="1" stop-color="#1a57b8"/></linearGradient></defs><circle cx="516.8" cy="12.8" r="7.9" fill="url(#gc)"/><circle cx="516.8" cy="12.8" r="5.1" fill="#eef4fc"/><path d="M516.500 9.300 V13 H520" stroke="#222" stroke-width="1.300" fill="none"/></g>
<path d="M532 12.2 H537.5 L534.75 15.2 Z" fill="#000"/>
<!-- template -->
<g><rect x="548.5" y="6.5" width="15" height="13" fill="#f4f8fd" stroke="#3a78d0" stroke-width="1"/><rect x="548" y="6" width="16" height="2.500" fill="#3a78d0"/><path d="M550 12.5 L553 11 L556 12 L559 10.5 L562 10.5" stroke="#b03010" stroke-width="1.2" fill="none"/><path d="M550 17 L553 15.5 L556 17 L559 15 L562 17" stroke="#2a9a2a" stroke-width="1.200" fill="none"/><path d="M549 14 H563" stroke="#3a78d0" stroke-width=".8"/></g>
<path d="M571 12.2 H576.5 L573.75 15.2 Z" fill="#000"/>
<!-- cursor -->
<path d="M599.500 6 V18.5 L602.5 15.800 L604.800 20.700 L606.800 19.800 L604.600 15.200 L608.500 15 Z" fill="#4a4a4a"/>
<!-- crosshair -->
<path d="M632.5 6 V21 M625 13.500 H640" stroke="#555" stroke-width="1.200"/><rect x="632" y="13" width="1" height="1" fill="#f0f0f0"/>
<!-- line tools -->
<path d="M666.500 7 V20" stroke="#555" stroke-width="1.200"/>
<path d="M689 13.500 H701" stroke="#555" stroke-width="1.200"/>
<path d="M717 20 L729 8" stroke="#555" stroke-width="1.300"/>
<g stroke="#444" stroke-width="1.15" fill="none"><path d="M743 14.600 L750.900 6.800 M744 19.600 L756.600 8 M748 19.900 L757.300 11.400 M745.700 13.500 V18.800 M749.100 10 V16.800 M752.100 8 V14.500 M754.800 5.400 V12.100"/></g>
<text x="754" y="22" font-family="Liberation Sans, sans-serif" font-weight="bold" font-size="6.5" fill="#444">E</text>
<g stroke="#555" stroke-width="1" stroke-dasharray="1 1" shape-rendering="crispEdges"><path d="M772 6.500 H785 M772 10.500 H785 M772 13.500 H785 M772 17.500 H781"/></g>
<text x="781.500" y="22" font-family="Liberation Sans, sans-serif" font-weight="bold" font-size="6.500" fill="#444">F</text>
<text x="802.6" y="17.8" font-family="Liberation Sans, sans-serif" font-size="11.6" fill="#555" stroke="#555" stroke-width=".25">A</text>
<rect x="828.500" y="6.500" width="12" height="13" fill="none" stroke="#666" stroke-width="1" stroke-dasharray="1 1" shape-rendering="crispEdges"/>
<text x="830.300" y="18" font-family="Liberation Sans, sans-serif" font-size="11.500" font-weight="bold" fill="#555">T</text>
<g fill="#444"><path d="M856 10.500 L859.500 7 L863 10.500 L859.500 12 Z"/><path d="M863 16.500 L866.500 14.500 L870 16.500 L866.500 20 Z"/></g><path d="M858 13 L861 16.500 L866 10.500" stroke="#444" stroke-width="1.200" fill="none"/>
<path d="M877 12.2 H882.500 L879.750 15.2 Z" fill="#000"/>
<!-- search -->
<g><path d="M1616.8 13.2 L1612 17.6" stroke="#2b5fcc" stroke-width="2.200" stroke-linecap="round"/><circle cx="1619.500" cy="10.300" r="3.900" fill="#fff" stroke="#2b5fcc" stroke-width="1.300"/></g>
<!-- bubble -->
<g><path d="M1637 15 a5 4.500 0 0 1 5 -4.500 h3 a5 4.500 0 0 1 0 9 h-4 l-2.300 2 l.3 -2.300 a4.600 4.600 0 0 1 -2 -4.200 Z" fill="#e9eaf4" stroke="#b8b8b8" stroke-width="1"/><circle cx="1650.600" cy="10.300" r="8.200" fill="#e0351c"/><text x="1647.300" y="14.800" font-family="Liberation Sans, sans-serif" font-size="12.500" fill="#fff">1</text></g>
</svg>

</div>
</body></html>
